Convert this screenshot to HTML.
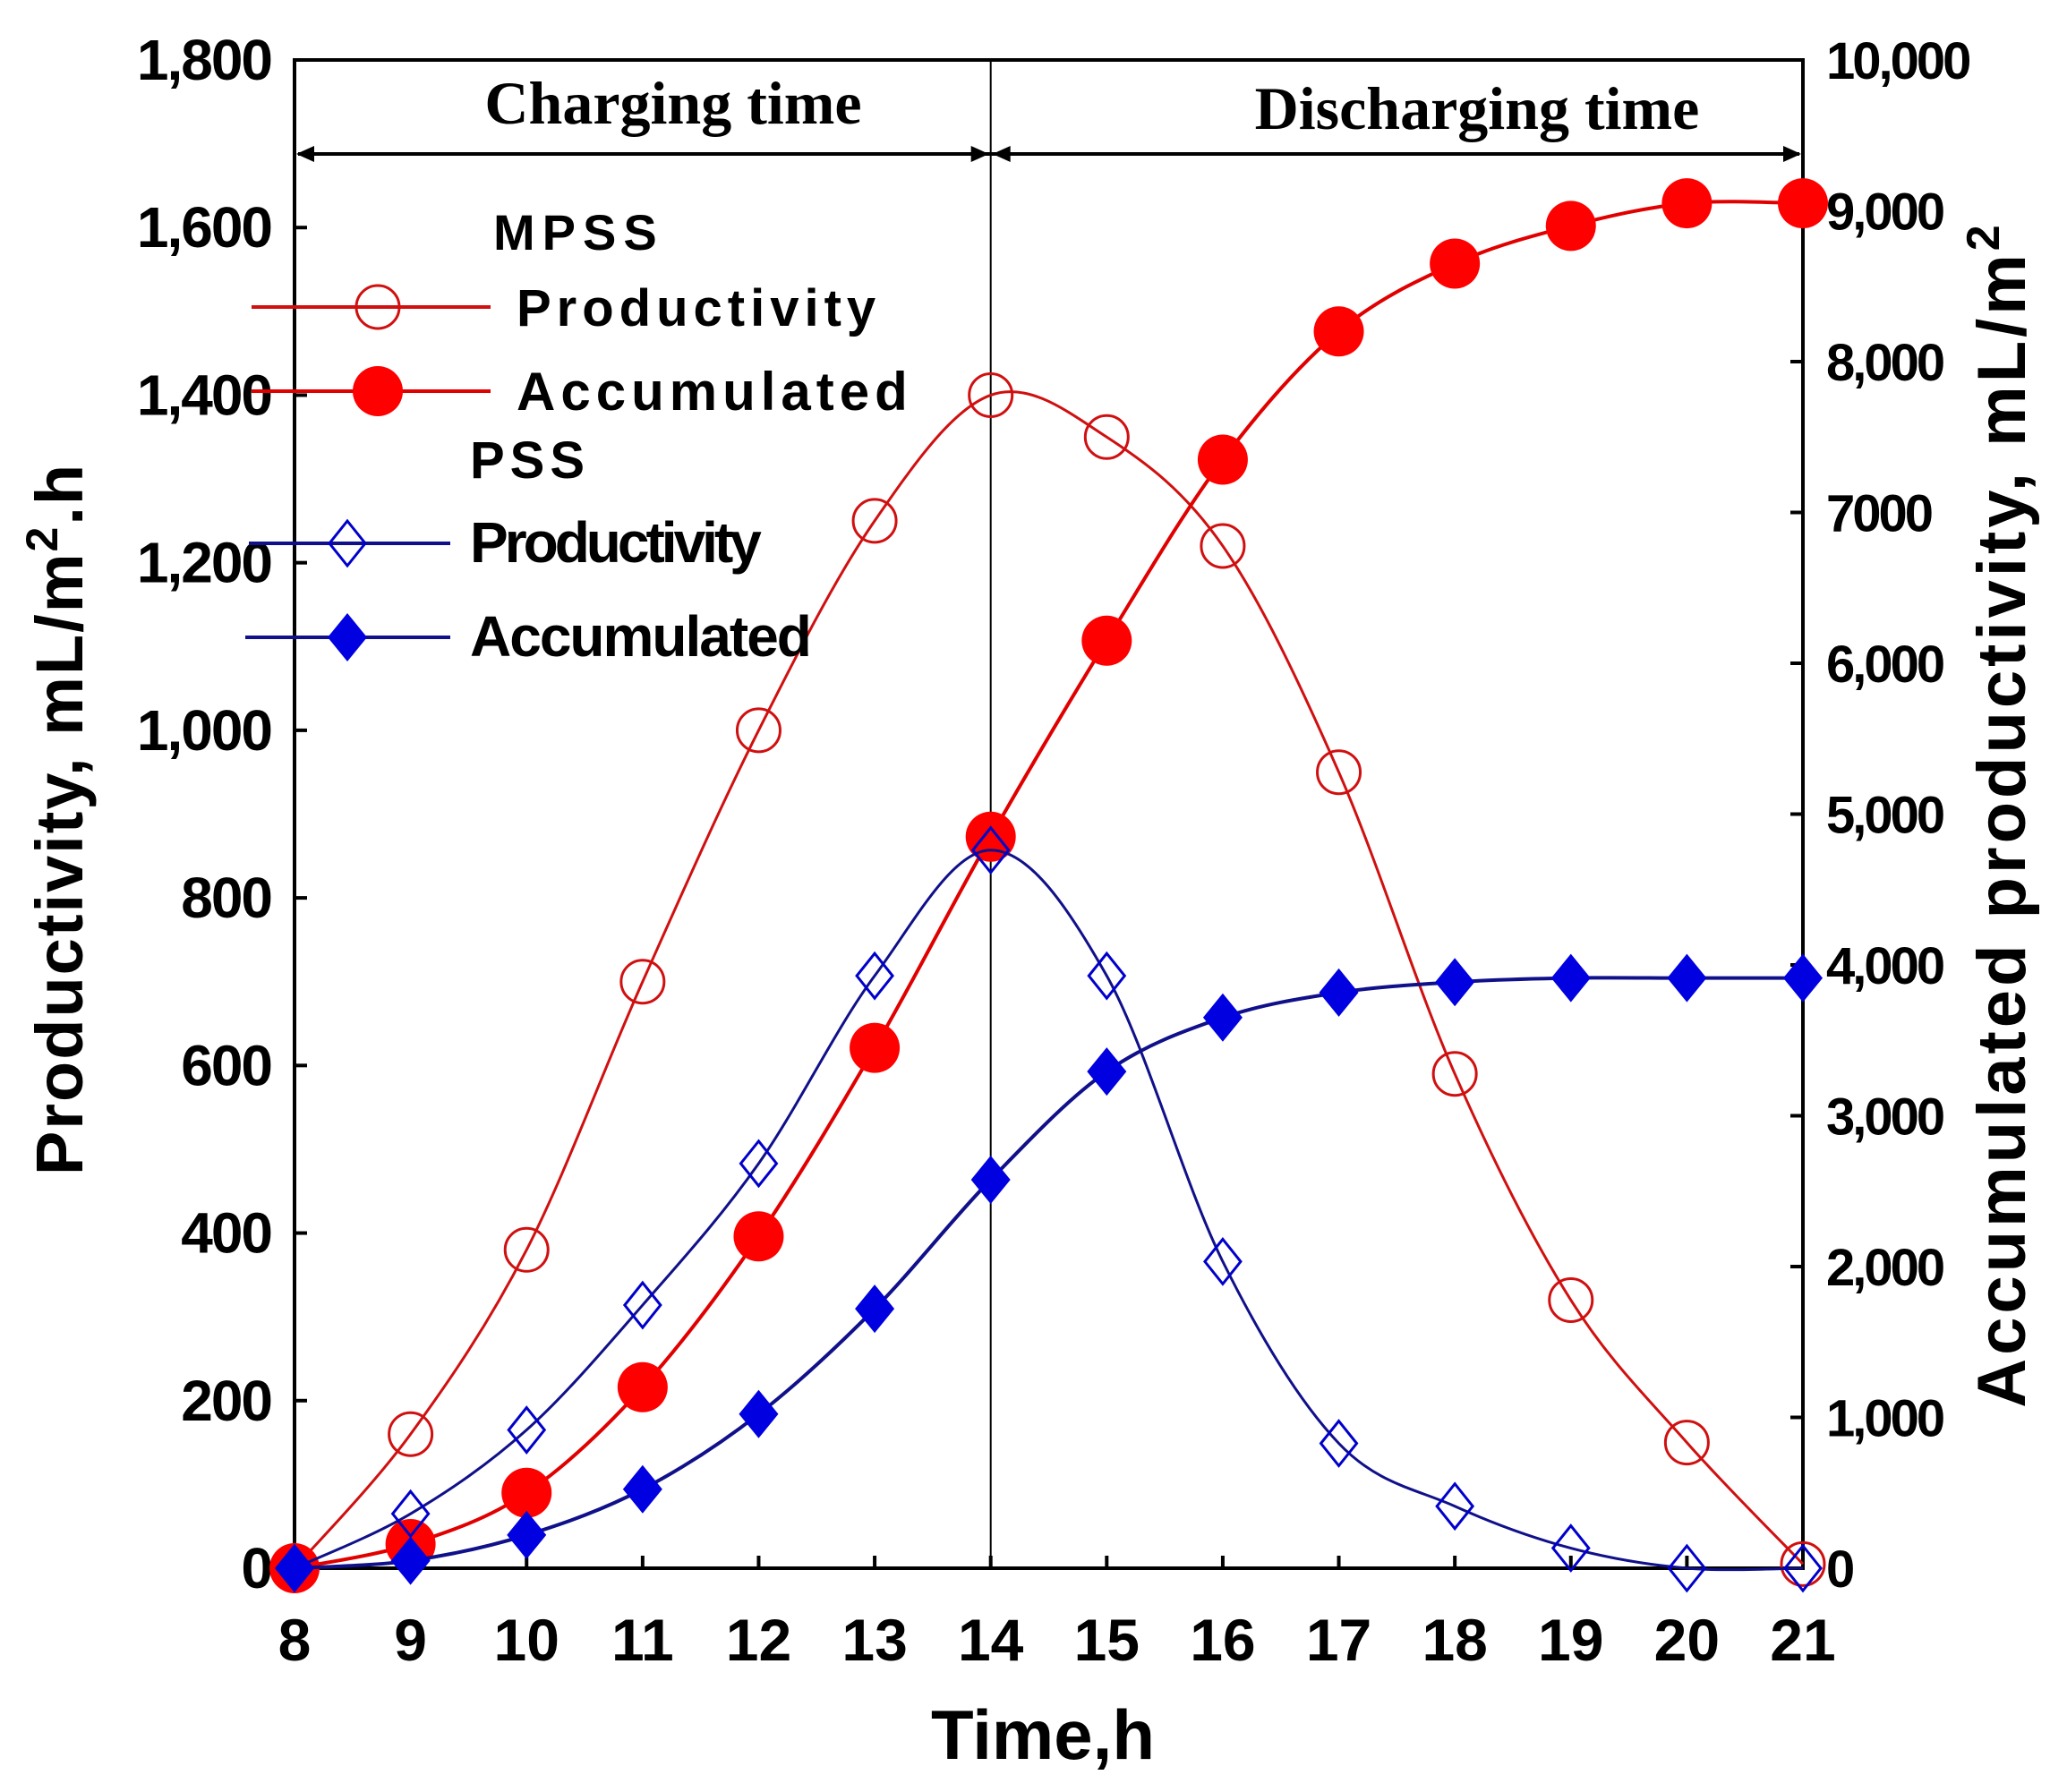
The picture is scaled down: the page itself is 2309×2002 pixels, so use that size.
<!DOCTYPE html>
<html><head><meta charset="utf-8"><style>
html,body{margin:0;padding:0;background:#fff;}
svg{display:block;}
text{font-family:"Liberation Sans",sans-serif;}
</style></head><body>
<svg id="chart" width="2309" height="2002" viewBox="0 0 2309 2002" xmlns="http://www.w3.org/2000/svg">
<g id="axes"></g><g id="series"></g><g id="legend"></g>
</svg>
<script>
const hours = [8,9,10,11,12,13,14,15,16,17,18,19,20,21];
const mpssProductivity = [0,160,380,700,1000,1250,1400,1350,1220,950,590,320,150,5];
const mpssAccumulated = [0,160,500,1200,2200,3450,4850,6150,7350,8200,8650,8900,9050,9050];
const pssProductivity = [0,65,165,314,483,707,857,707,366,149,74,24,0,0];
const pssAccumulated = [0,50,220,524,1022,1720,2576,3293,3651,3817,3886,3913,3913,3913];
const leftTicks = [0,200,400,600,800,1000,1200,1400,1600,1800];
const leftTickLabels = ["0","200","400","600","800","1,000","1,200","1,400","1,600","1,800"];
const rightTicks = [0,1000,2000,3000,4000,5000,6000,7000,8000,9000,10000];
const rightTickLabels = ["0","1,000","2,000","3,000","4,000","5,000","6,000","7000","8,000","9,000","10,000"];

const NS="http://www.w3.org/2000/svg";
const X0=329,X1=2014,Y0=1752,Y1=67;
const xs=h=>X0+(h-8)/(21-8)*(X1-X0);
const yl=v=>Y0-v/1800*(Y0-Y1);
const yr=v=>Y0-v/10000*(Y0-Y1);
function mk(tag,attrs,parent,txt){const e=document.createElementNS(NS,tag);for(const k in attrs)e.setAttribute(k,attrs[k]);if(txt!==undefined)e.textContent=txt;parent.appendChild(e);return e;}
const axes=document.getElementById('axes'),series=document.getElementById('series'),legend=document.getElementById('legend');

let e=mk('rect',{x:X0,y:Y1,width:X1-X0,height:Y0-Y1,fill:'none',stroke:'#000','stroke-width':4},axes);

e=mk('line',{x1:xs(14),y1:Y1,x2:xs(14),y2:Y0,stroke:'#000','stroke-width':2},axes);

const ay=172;
e=mk('line',{x1:X0+4,y1:ay,x2:X1-4,y2:ay,stroke:'#000','stroke-width':4},axes);

[[X0+2,1],[xs(14)-2,-1],[xs(14)+2,1],[X1-2,-1]].forEach(([x,d])=>{
 const p=mk('path',{d:`M${x},${ay} l${d*20},-9 l0,18 z`,fill:'#000'},axes);
 
});
e=mk('text',{x:752,y:138,'text-anchor':'middle','font-size':68,'font-weight':'bold',style:'font-family:"Liberation Serif",serif'},axes,'Charging time');

e=mk('text',{x:1650,y:144,'text-anchor':'middle','font-size':68,'font-weight':'bold',style:'font-family:"Liberation Serif",serif'},axes,'Discharging time');


leftTicks.forEach((v,i)=>{
 const t=mk('line',{x1:X0,y1:yl(v),x2:X0+14,y2:yl(v),stroke:'#000','stroke-width':4},axes);
 
 const l=mk('text',{x:303,y:yl(v)+22,'text-anchor':'end','font-size':64,'font-weight':'bold','letter-spacing':-2},axes,leftTickLabels[i]);
 
});
rightTicks.forEach((v,i)=>{
 const t=mk('line',{x1:X1-14,y1:yr(v),x2:X1,y2:yr(v),stroke:'#000','stroke-width':4},axes);
 
 const l=mk('text',{x:2040,y:yr(v)+21,'font-size':58,'font-weight':'bold','letter-spacing':-3},axes,rightTickLabels[i]);
 
});
hours.forEach(h=>{
 const t=mk('line',{x1:xs(h),y1:Y0,x2:xs(h),y2:Y0-14,stroke:'#000','stroke-width':4},axes);
 
 const l=mk('text',{x:xs(h),y:1855,'text-anchor':'middle','font-size':66,'font-weight':'bold'},axes,String(h));
 
});
e=mk('text',{x:1165,y:1965,'text-anchor':'middle','font-size':78,'font-weight':'bold'},axes,'Time,h');

e=mk('text',{x:0,y:0,'text-anchor':'middle','font-size':74,'font-weight':'bold','letter-spacing':2,transform:'translate(92,915) rotate(-90)'},axes);

e.innerHTML='Productivity, mL/m<tspan baseline-shift="super" font-size="50">2</tspan>.h';
e=mk('text',{x:0,y:0,'text-anchor':'middle','font-size':76,'font-weight':'bold','letter-spacing':4,transform:'translate(2262,910) rotate(-90)'},axes);

e.innerHTML='Accumulated productivity, mL/m<tspan baseline-shift="super" font-size="52">2</tspan>';

function smooth(pts){
 let d=`M${pts[0][0]},${pts[0][1]}`;
 for(let i=0;i<pts.length-1;i++){
  const p0=pts[Math.max(i-1,0)],p1=pts[i],p2=pts[i+1],p3=pts[Math.min(i+2,pts.length-1)];
  const c1=[p1[0]+(p2[0]-p0[0])/6,p1[1]+(p2[1]-p0[1])/6],c2=[p2[0]-(p3[0]-p1[0])/6,p2[1]-(p3[1]-p1[1])/6];
  d+=` C${c1[0]},${c1[1]} ${c2[0]},${c2[1]} ${p2[0]},${p2[1]}`;
 }
 return d;
}
function marker(g,type,x,y,color){
 let m;
 if(type==='circle-open')m=mk('circle',{cx:x,cy:y,r:24,fill:'none',stroke:color,'stroke-width':3},g);
 else if(type==='circle-fill')m=mk('circle',{cx:x,cy:y,r:28,fill:color},g);
 else if(type==='diamond-open')m=mk('path',{d:`M${x},${y-25} L${x+20},${y} L${x},${y+25} L${x-20},${y} Z`,fill:'none',stroke:color,'stroke-width':3},g);
 else m=mk('path',{d:`M${x},${y-27} L${x+22},${y} L${x},${y+27} L${x-22},${y} Z`,fill:color},g);
 return m;
}
const defs=[
 {name:'mpss-productivity',vals:mpssProductivity,ys:yl,color:'#d01010',w:3,m:'circle-open'},
 {name:'mpss-accumulated',vals:mpssAccumulated,ys:yr,color:'#e00000',w:4,m:'circle-fill',mc:'#ff0000'},
 {name:'pss-productivity',vals:pssProductivity,ys:yl,color:'#10108a',w:3,m:'diamond-open',mc:'#0000cc'},
 {name:'pss-accumulated',vals:pssAccumulated,ys:yr,color:'#10108a',w:4,m:'diamond-fill',mc:'#0000e0'},
];
defs.forEach(s=>{
 const g=mk('g',{},series);
 
 const pts=hours.map((h,i)=>[xs(h),s.ys(s.vals[i])]);
 const p=mk('path',{d:smooth(pts),fill:'none',stroke:s.color,'stroke-width':s.w},g);
 
 pts.forEach(pt=>{const m=marker(g,s.m,pt[0],pt[1],s.mc||s.color);
  });
});

function lg(name,label,y,x1,x2,mx,tx,type,color,mc,fs,ls){
 const g=mk('g',{},legend);
 
 mk('line',{x1:x1,y1:y,x2:x2,y2:y,stroke:color,'stroke-width':4},g);
 marker(g,type,mx,y,mc);
 mk('text',{x:tx,y:y+21,'font-size':fs,'font-weight':'bold','letter-spacing':ls},g,label);
}
e=mk('text',{x:551,y:279,'font-size':56,'font-weight':'bold','letter-spacing':8},legend,'MPSS');

lg('legend-mpss-productivity','Productivity',343,281,548,422,577,'circle-open','#d01010','#d01010',58,6);
lg('legend-mpss-accumulated','Accumulated',437,281,548,422,577,'circle-fill','#e00000','#ff0000',60,6);
e=mk('text',{x:525,y:534,'font-size':58,'font-weight':'bold','letter-spacing':6},legend,'PSS');

lg('legend-pss-productivity','Productivity',607,278,503,388,525,'diamond-open','#10108a','#0000cc',64,-4);
lg('legend-pss-accumulated','Accumulated',712,274,503,388,525,'diamond-fill','#10108a','#0000e0',64,-2);
</script>
</body></html>
